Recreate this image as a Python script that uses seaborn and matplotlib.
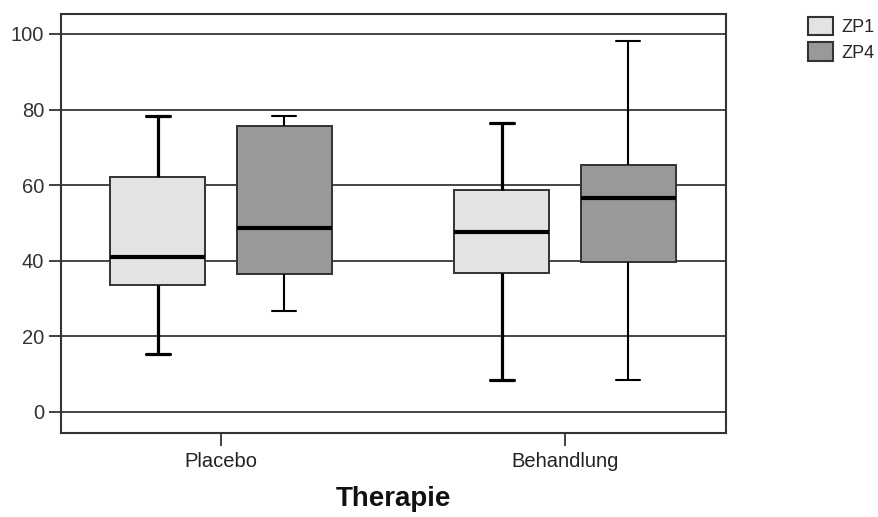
import pandas as pd
import matplotlib.pyplot as plt
import matplotlib.patches as mpatches
import seaborn as sns

# Five-number summaries: [min, Q1, median, Q3, max]
therapie = ['Placebo', 'Behandlung']
zeitpunkte = ['ZP1', 'ZP4']
placebo_zp1 = [15.3, 33.7, 40.9, 62.2, 78.3]
placebo_zp4 = [26.8, 36.5, 48.8, 75.7, 78.4]
behandlung_zp1 = [8.5, 36.7, 47.5, 58.7, 76.5]
behandlung_zp4 = [8.5, 39.7, 56.5, 65.3, 98.1]
y_ticks = [0, 20, 40, 60, 80, 100]
farben = {'ZP1': '#e3e3e3', 'ZP4': '#999999'}

groups = {
    ('Placebo', 'ZP1'): placebo_zp1,
    ('Placebo', 'ZP4'): placebo_zp4,
    ('Behandlung', 'ZP1'): behandlung_zp1,
    ('Behandlung', 'ZP4'): behandlung_zp4,
}
rows = []
for (t, zp), vals in groups.items():
    for v in vals:
        rows.append({'Therapie': t, 'Zeitpunkt': zp, 'Wert': v})
df = pd.DataFrame(rows)

sns.set_style("white")
plt.rcParams['font.family'] = ['Liberation Sans', 'DejaVu Sans']

fig = plt.figure(figsize=(8.79, 5.17), dpi=100)
ax = fig.add_axes([0.0694, 0.1625, 0.7566, 0.8105])

# grid lines behind the boxes
for t in y_ticks:
    ax.axhline(t, color='#444444', lw=1.4, zorder=0)

sns.boxplot(
    data=df, x='Therapie', y='Wert', hue='Zeitpunkt',
    order=therapie, hue_order=zeitpunkte, palette=farben,
    whis=(0, 100), width=0.736, gap=0.25, linecolor='#333333',
    boxprops=dict(linewidth=1.4, edgecolor='#333333', zorder=2),
    medianprops=dict(color='black', linewidth=3),
    whiskerprops=dict(color='black', linewidth=1.5),
    capprops=dict(color='black', linewidth=1.5),
    capwidths=0.07,
    legend=False, ax=ax,
)

# ZP1 whiskers and caps are drawn heavier than ZP4 in the original
for line in ax.lines:
    xd = line.get_xdata()
    if len(xd) != 2:
        continue
    length = abs(xd[1] - xd[0])
    mid = (xd[0] + xd[1]) / 2
    if length < 0.1 and mid - round(mid) < 0:
        line.set_linewidth(2.3)

ax.set_xlim(-0.465, 1.468)
ax.set_ylim(-5.56, 105.3)
ax.set_yticks(y_ticks)
ax.set_yticklabels([str(t) for t in y_ticks], fontsize=14.5, color='#333333')
ax.set_xticks([0, 1])
ax.set_xticklabels(therapie, fontsize=14.5, color='#222222')
ax.tick_params(axis='both', direction='out', length=9, width=1.3, color='#333333',
               bottom=True, left=True, pad=3)
ax.tick_params(axis='x', pad=5)
ax.set_xlabel('Therapie', fontsize=20, fontweight='bold', color='#111111')
ax.xaxis.set_label_coords(0.5, -0.127)
ax.set_ylabel('')
for s in ax.spines.values():
    s.set_color('#333333')
    s.set_linewidth(1.5)

handles = [mpatches.Patch(facecolor=farben[z], edgecolor='#333333', linewidth=1.5, label=z)
           for z in zeitpunkte]
ax.legend(handles=handles, loc='upper left', bbox_to_anchor=(1.1233, 0.993), frameon=False,
          fontsize=13, handlelength=1.4, handleheight=1.2, labelspacing=0.33, handletextpad=0.45,
          borderaxespad=0, borderpad=0)

plt.savefig('out.png', dpi=100)
